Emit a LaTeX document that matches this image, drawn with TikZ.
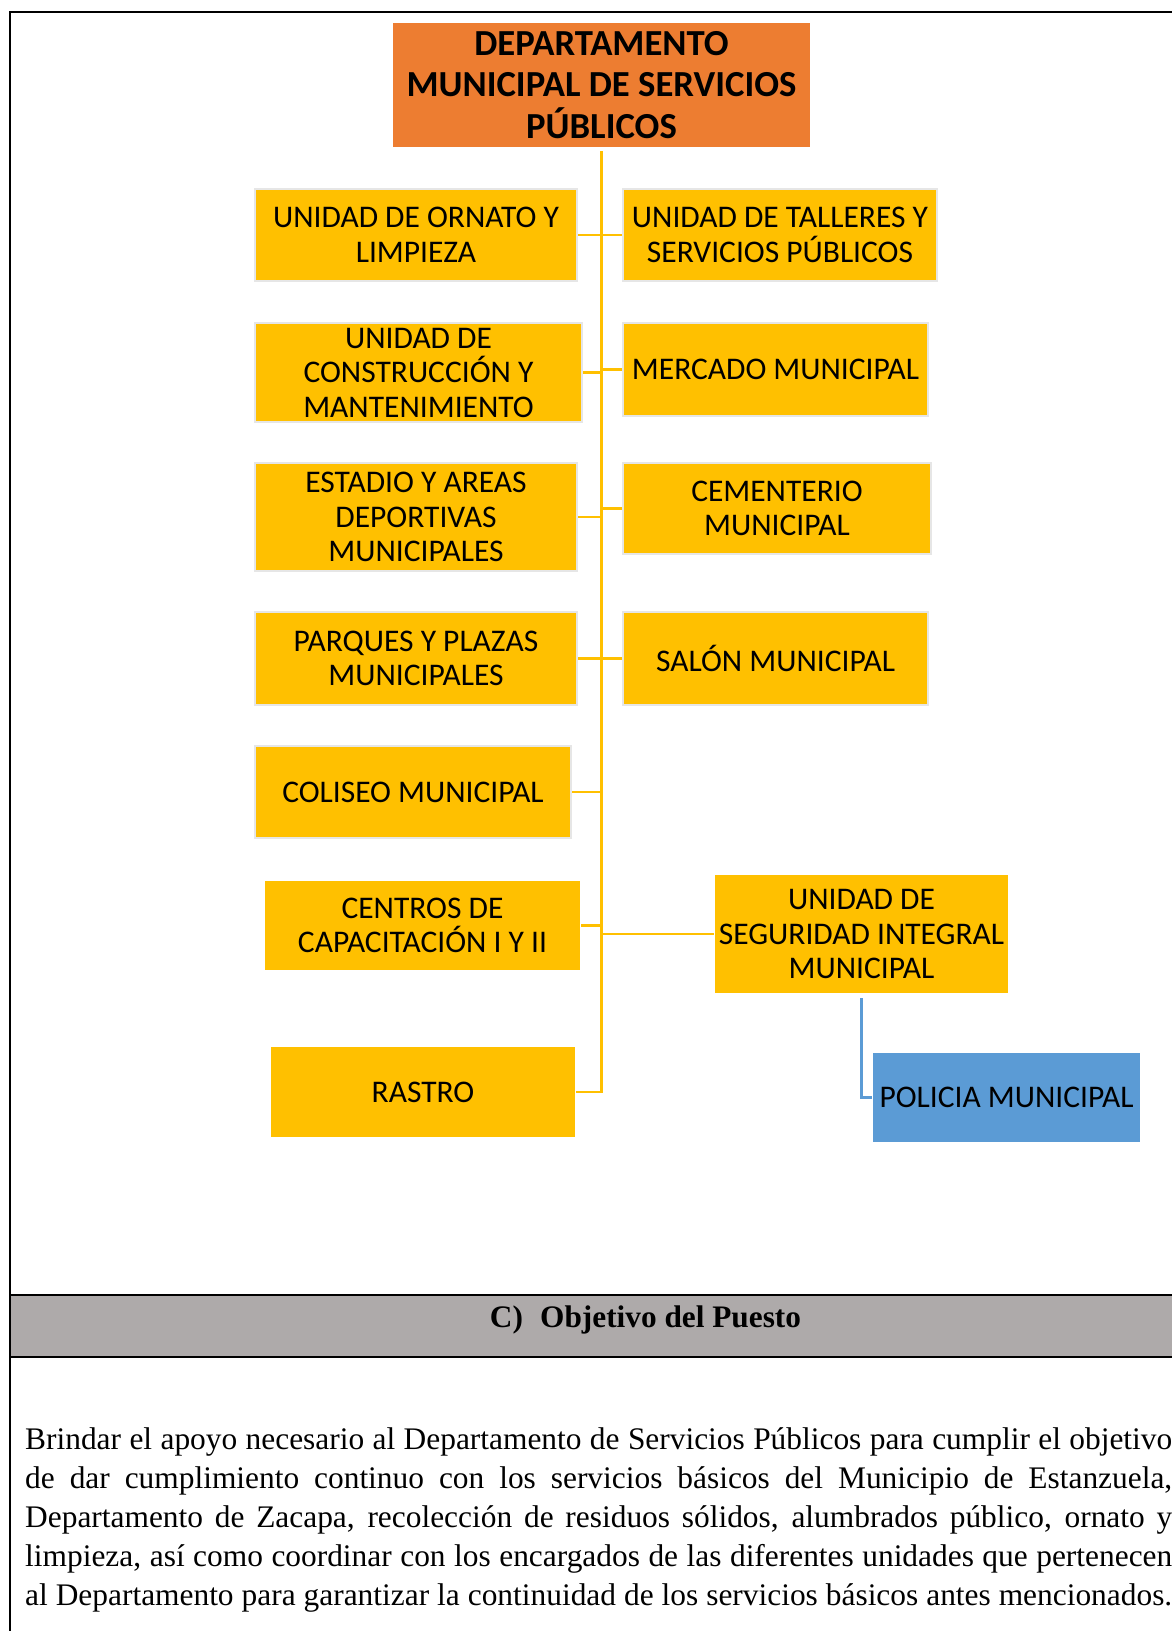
\documentclass[tikz,border=0pt]{standalone}
\usepackage{fontspec}
\setmainfont{Liberation Serif}
\newfontfamily\boxfont{Carlito}
\usepackage{tikz}
\usetikzlibrary{positioning}

\definecolor{unitgold}{HTML}{FFC000}
\definecolor{unitedge}{HTML}{E6E6E6}
\definecolor{headorange}{HTML}{ED7D31}
\definecolor{policeblue}{HTML}{5B9BD5}
\definecolor{bandgray}{HTML}{AEAAAA}

\begin{document}
\begin{tikzpicture}[
  x=1pt, y=-1pt,
  unit/.style={fill=unitgold, draw=unitedge, line width=2.5pt, inner sep=0pt,
    align=center, font=\boxfont\fontsize{31.5}{34.5}\selectfont},
  unitplain/.style={unit, draw=none},
  head/.style={fill=headorange, inner sep=0pt, align=center,
    font=\boxfont\bfseries\fontsize{36.7}{41.5}\selectfont},
  police/.style={unit, fill=policeblue, draw=none},
  link/.style={draw=unitgold, line width=2.5pt},
  policelink/.style={draw=policeblue, line width=2.5pt},
  frame/.style={draw=black, line width=2pt}
]
\useasboundingbox (0,0) rectangle (1172,1631);

% outer frame and section band
\draw[frame] (1180,12) -- (10,12) -- (10,1640);
\draw[frame, fill=bandgray] (10,1295) rectangle (1180,1357);

% chart
\node[head, minimum width=417pt, minimum height=124pt] (head) at (601.5,85)
  {DEPARTAMENTO\\MUNICIPAL DE SERVICIOS\\PÚBLICOS};

\node[unit, minimum width=322pt, minimum height=92pt] (ornato) at (416,235)
  {UNIDAD DE ORNATO Y\\LIMPIEZA};
\node[unit, minimum width=327pt, minimum height=99pt] (construccion) at (418.5,372.5)
  {UNIDAD DE\\CONSTRUCCIÓN Y\\MANTENIMIENTO};
\node[unit, minimum width=322pt, minimum height=108pt] (estadio) at (416,517)
  {ESTADIO Y AREAS\\DEPORTIVAS\\MUNICIPALES};
\node[unit, minimum width=322pt, minimum height=93pt] (parques) at (416,658.5)
  {PARQUES Y PLAZAS\\MUNICIPALES};
\node[unit, minimum width=316pt, minimum height=92pt] (coliseo) at (413,792)
  {COLISEO MUNICIPAL};
\node[unitplain, minimum width=315pt, minimum height=89pt] (centros) at (422.5,925.5)
  {CENTROS DE\\CAPACITACIÓN I Y II};
\node[unitplain, minimum width=304pt, minimum height=90pt] (rastro) at (423,1092)
  {RASTRO};

\node[unit, minimum width=314pt, minimum height=92pt] (talleres) at (780,235)
  {UNIDAD DE TALLERES Y\\SERVICIOS PÚBLICOS};
\node[unit, minimum width=305pt, minimum height=93pt] (mercado) at (775.5,369.5)
  {MERCADO MUNICIPAL};
\node[unit, minimum width=308pt, minimum height=91pt] (cementerio) at (777,508.5)
  {CEMENTERIO\\MUNICIPAL};
\node[unit, minimum width=305pt, minimum height=93pt] (salon) at (775.5,658.5)
  {SALÓN MUNICIPAL};
\node[unitplain, minimum width=293pt, minimum height=118pt] (usim) at (861.5,934)
  {UNIDAD DE\\SEGURIDAD INTEGRAL\\MUNICIPAL};
\node[police, minimum width=267pt, minimum height=89pt] (policia) at (1006.5,1097.5)
  {POLICIA MUNICIPAL};

% connectors
\draw[link] ([yshift=-4pt]head.south) -- (head.south |- rastro.east) -- (rastro.east);
\foreach \n in {ornato, construccion, estadio, parques, coliseo, centros}
  \draw[link] (\n.east) -- (\n.east -| head.south);
\foreach \n in {talleres, mercado, cementerio, salon, usim}
  \draw[link] (\n.west) -- (\n.west -| head.south);
\draw[policelink] ([yshift=-4pt]usim.south) -- (usim.south |- policia.west) -- (policia.west);

% objective section
\node[anchor=base, font=\bfseries\fontsize{31.3}{36}\selectfont] (objtitle) at (645.5,1327)
  {C)\hspace{0.55em}Objetivo del Puesto};
\node[anchor=north west, inner sep=0pt, text width=1147pt, align=justify,
  font=\fontsize{31.4}{39}\selectfont] (objtext) at (25,1419)
  {\rule{0pt}{30pt}Brindar el apoyo necesario al Departamento de Servicios Públicos para cumplir el objetivo\linebreak
  de dar cumplimiento continuo con los servicios básicos del Municipio de Estanzuela,\linebreak
  Departamento de Zacapa, recolección de residuos sólidos, alumbrados público, ornato y\linebreak
  limpieza, así como coordinar con los encargados de las diferentes unidades que pertenecen\linebreak
  al Departamento para garantizar la continuidad de los servicios básicos antes mencionados.\parfillskip=0pt\par};
\end{tikzpicture}
\end{document}
